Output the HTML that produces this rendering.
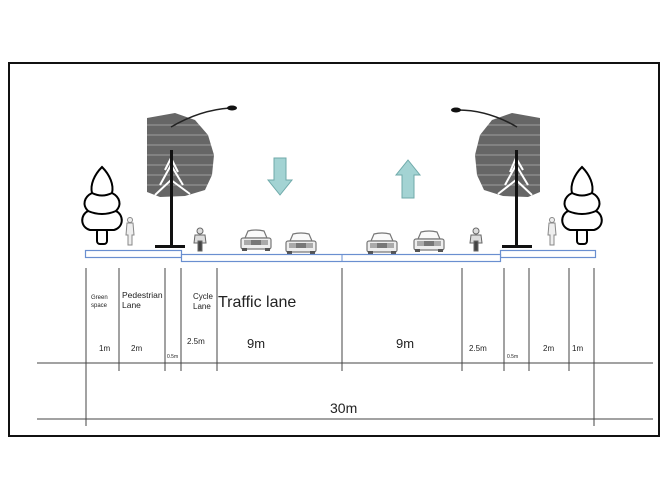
<!DOCTYPE html>
<html><head><meta charset="utf-8"><style>
html,body{margin:0;padding:0;background:#fff;}
svg{display:block;}
text{font-family:"Liberation Sans",sans-serif;fill:#222;}
</style></head><body>
<svg width="668" height="501" viewBox="0 0 668 501" xmlns="http://www.w3.org/2000/svg">
<rect x="9" y="63" width="650" height="373" fill="#fff" stroke="#111" stroke-width="2"/>
<defs>
<g id="conifer" fill="#fff" stroke="#000" stroke-width="2">
<rect x="-5" y="62" width="10" height="15" rx="3"/>
<path d="M0,0 C-8,8 -12,18 -10,26 C-18,30 -20,38 -14,44 C-22,48 -22,60 -12,63 L12,63 C22,60 22,48 14,44 C20,38 18,30 10,26 C12,18 8,8 0,0Z"/>
<path d="M-10,26 Q0,31 10,26 M-14,44 Q0,50 14,44" fill="none"/>
</g>
<g id="car">
<path d="M5,9 L8,2 Q16,0 24,2 L27,9Z" fill="#fafafa" stroke="#777" stroke-width="1.2"/>
<rect x="1" y="9" width="30" height="11" rx="2" fill="#eee" stroke="#777" stroke-width="1.2"/>
<rect x="4" y="11" width="24" height="5" fill="#aaa"/>
<rect x="11" y="11" width="10" height="5" fill="#777"/>
<rect x="2" y="19" width="5" height="3" fill="#555"/>
<rect x="25" y="19" width="5" height="3" fill="#555"/>
</g>
<g id="ped" fill="#eee" stroke="#888" stroke-width="1">
<circle cx="0" cy="2" r="2.5"/>
<path d="M-3,5 L3,5 L4,17 L2,17 L2,27 L-2,27 L-2,17 L-4,17Z"/>
</g>
<g id="bike" stroke="#666" stroke-width="1" fill="#ddd">
<circle cx="0" cy="3" r="3"/>
<path d="M-5,7 L5,7 L6,15 L-6,15Z"/>
<rect x="-2" y="13" width="4" height="10" fill="#444"/>
</g>
</defs>
<g>
<path d="M147,118 L175,113 L195,120 L208,135 L214,155 L212,175 L205,190 L185,196 L160,197 L147,192Z" fill="#666"/>
<g stroke="#fff" stroke-width="0.8" opacity="0.5">
<line x1="147" y1="125" x2="214" y2="125"/><line x1="147" y1="135" x2="214" y2="135"/><line x1="147" y1="145" x2="214" y2="145"/><line x1="147" y1="155" x2="214" y2="155"/><line x1="147" y1="165" x2="214" y2="165"/><line x1="147" y1="175" x2="214" y2="175"/><line x1="147" y1="185" x2="214" y2="185"/>
</g>
<path d="M160,185 L171,165 L183,185 M165,170 L171,158 L178,172 M155,195 L171,180 L190,194" stroke="#fff" stroke-width="2" fill="none"/>
<rect x="170" y="150" width="3" height="97" fill="#111"/>
<path d="M171,127 Q200,110 230,108" stroke="#222" stroke-width="1.5" fill="none"/>
<ellipse cx="232" cy="108" rx="5" ry="2.5" fill="#111"/>
<rect x="155" y="245" width="30" height="3" fill="#111"/>
</g>
<g>
<path d="M540,118 L512,113 L492,120 L480,135 L475,155 L477,175 L484,190 L503,196 L528,197 L540,192Z" fill="#666"/>
<g stroke="#fff" stroke-width="0.8" opacity="0.5">
<line x1="475" y1="125" x2="540" y2="125"/><line x1="475" y1="135" x2="540" y2="135"/><line x1="475" y1="145" x2="540" y2="145"/><line x1="475" y1="155" x2="540" y2="155"/><line x1="475" y1="165" x2="540" y2="165"/><line x1="475" y1="175" x2="540" y2="175"/><line x1="475" y1="185" x2="540" y2="185"/>
</g>
<path d="M505,185 L516,165 L528,185 M510,172 L516,158 L523,170 M498,194 L516,180 L532,195" stroke="#fff" stroke-width="2" fill="none"/>
<rect x="515" y="150" width="3" height="97" fill="#111"/>
<path d="M517,127 Q488,110 458,110" stroke="#222" stroke-width="1.5" fill="none"/>
<ellipse cx="456" cy="110" rx="5" ry="2.5" fill="#111"/>
<rect x="502" y="245" width="30" height="3" fill="#111"/>
</g>
<use href="#conifer" x="102" y="167"/>
<use href="#conifer" x="582" y="167"/>
<use href="#ped" x="130" y="218"/>
<use href="#ped" x="552" y="218"/>
<use href="#bike" x="200" y="228"/>
<use href="#bike" x="476" y="228"/>
<use href="#car" x="240" y="229"/>
<use href="#car" x="285" y="232"/>
<use href="#car" x="366" y="232"/>
<use href="#car" x="413" y="230"/>
<path d="M274,158 L286,158 L286,180 L292,180 L280,195 L268,180 L274,180Z" fill="#a3d3d3" stroke="#6faaaa" stroke-width="1"/>
<path d="M402,198 L414,198 L414,175 L420,175 L408,160 L396,175 L402,175Z" fill="#a3d3d3" stroke="#6faaaa" stroke-width="1"/>
<rect x="85.5" y="250.5" width="96" height="7" fill="#fff" stroke="#6a8fd0" stroke-width="1.2"/>
<rect x="500.5" y="250.5" width="95" height="7" fill="#fff" stroke="#6a8fd0" stroke-width="1.2"/>
<rect x="181.5" y="254.5" width="319" height="7" fill="#fff" stroke="#6a8fd0" stroke-width="1.2"/>
<line x1="342" y1="254" x2="342" y2="262" stroke="#6a8fd0"/>
<g stroke="#444" stroke-width="1">
<line x1="37" y1="363" x2="653" y2="363"/>
<line x1="37" y1="419" x2="653" y2="419"/>
<line x1="86" y1="268" x2="86" y2="426"/>
<line x1="594" y1="268" x2="594" y2="426"/>
<line x1="119" y1="268" x2="119" y2="371"/>
<line x1="165" y1="268" x2="165" y2="371"/>
<line x1="181" y1="268" x2="181" y2="371"/>
<line x1="217" y1="268" x2="217" y2="371"/>
<line x1="342" y1="268" x2="342" y2="371"/>
<line x1="462" y1="268" x2="462" y2="371"/>
<line x1="504" y1="268" x2="504" y2="371"/>
<line x1="529" y1="268" x2="529" y2="371"/>
<line x1="569" y1="268" x2="569" y2="371"/>
</g>
<text x="91" y="299" font-size="6">Green</text>
<text x="91" y="307" font-size="6">space</text>
<text x="122" y="298" font-size="8.5">Pedestrian</text>
<text x="122" y="308" font-size="8.5">Lane</text>
<text x="193" y="299" font-size="8">Cycle</text>
<text x="193" y="309" font-size="8">Lane</text>
<text x="218" y="307" font-size="16">Traffic lane</text>
<text x="99" y="351" font-size="8">1m</text>
<text x="131" y="351" font-size="8">2m</text>
<text x="167" y="358" font-size="5">0.5m</text>
<text x="187" y="344" font-size="8">2.5m</text>
<text x="247" y="348" font-size="13">9m</text>
<text x="396" y="348" font-size="13">9m</text>
<text x="469" y="351" font-size="8">2.5m</text>
<text x="507" y="358" font-size="5">0.5m</text>
<text x="543" y="351" font-size="8">2m</text>
<text x="572" y="351" font-size="8">1m</text>
<text x="330" y="413" font-size="14">30m</text>
</svg>
</body></html>
